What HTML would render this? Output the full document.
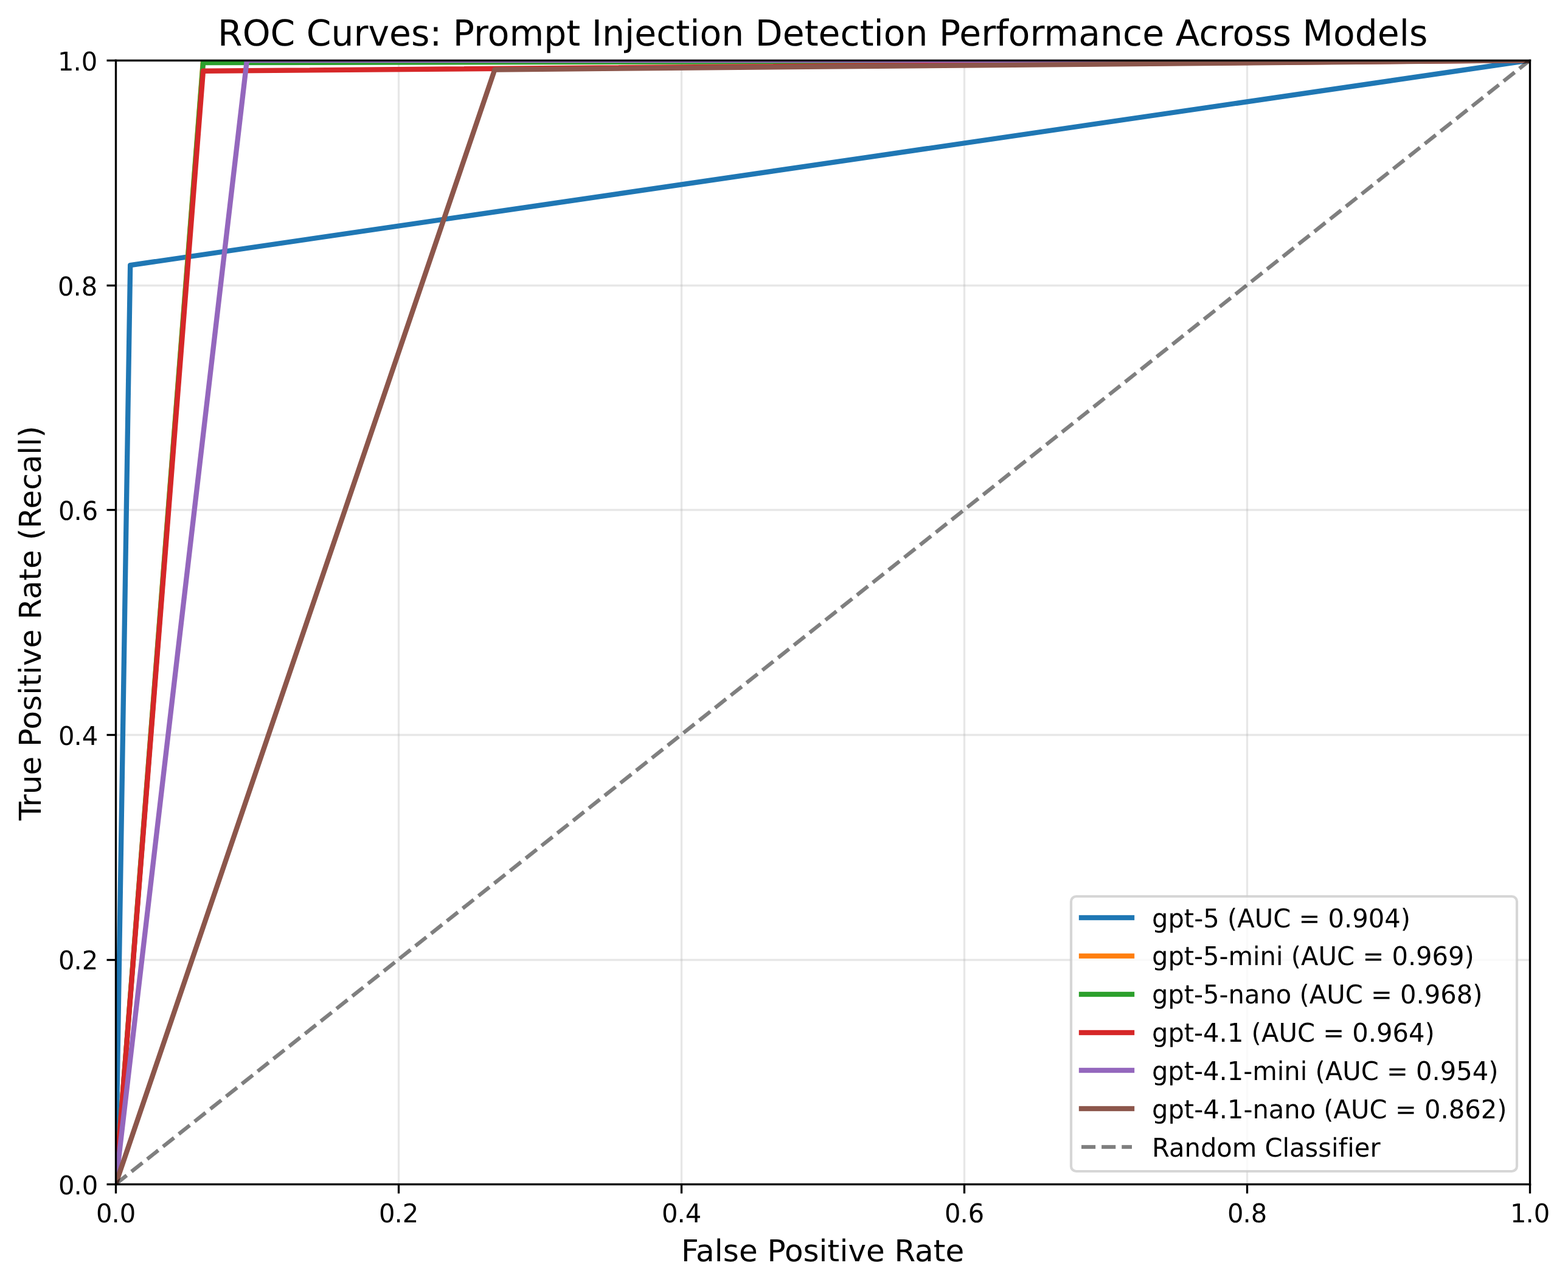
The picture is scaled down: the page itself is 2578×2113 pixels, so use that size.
<!DOCTYPE html>
<html lang="en"><head><meta charset="utf-8"><title>ROC Curves: Prompt Injection Detection Performance Across Models</title>
<style>html,body{margin:0;padding:0;background:#fff;width:2578px;height:2113px}svg{display:block}text{font-family:'DejaVu Sans', 'Liberation Sans', sans-serif;fill:#000;white-space:pre;text-rendering:geometricPrecision}</style>
</head><body>
<svg width="2578" height="2113" viewBox="0 0 2578 2113">
<defs><clipPath id="ax"><rect x="190.208" y="99.167" width="2325.000" height="1848.000"/></clipPath></defs>
<rect width="2578" height="2113" fill="#fff"/>
<g clip-path="url(#ax)" stroke="#b0b0b0" stroke-opacity="0.3" stroke-width="3.3333" stroke-linecap="square" fill="none">
<path d="M190.5 1947.167 V99.167"/>
<path d="M655.5 1947.167 V99.167"/>
<path d="M1120.5 1947.167 V99.167"/>
<path d="M1585.5 1947.167 V99.167"/>
<path d="M2050.5 1947.167 V99.167"/>
<path d="M2515.5 1947.167 V99.167"/>
<path d="M190.208 1947.5 H2515.208"/>
<path d="M190.208 1578.5 H2515.208"/>
<path d="M190.208 1208.5 H2515.208"/>
<path d="M190.208 838.5 H2515.208"/>
<path d="M190.208 469.5 H2515.208"/>
<path d="M190.208 99.5 H2515.208"/>
</g>
<g stroke="#000" stroke-width="3.3333" fill="none">
<path d="M190.5 1947.5 v15.000"/>
<path d="M655.5 1947.5 v15.000"/>
<path d="M1120.5 1947.5 v15.000"/>
<path d="M1585.5 1947.5 v15.000"/>
<path d="M2050.5 1947.5 v15.000"/>
<path d="M2515.5 1947.5 v15.000"/>
<path d="M190.5 1947.5 h-15.000"/>
<path d="M190.5 1578.5 h-15.000"/>
<path d="M190.5 1208.5 h-15.000"/>
<path d="M190.5 838.5 h-15.000"/>
<path d="M190.5 469.5 h-15.000"/>
<path d="M190.5 99.5 h-15.000"/>
</g>
<text font-size="41.6667" transform="matrix(1 0 0 1.0200 0 2010)" x="157.90 183.40 196.65" y="0">0.0</text>
<text font-size="41.6667" transform="matrix(1 0 0 1.0200 0 2010)" x="622.90 648.40 661.65" y="0">0.2</text>
<text font-size="41.6667" transform="matrix(1 0 0 1.0200 0 2010)" x="1088.10 1113.60 1126.85" y="0">0.4</text>
<text font-size="41.6667" transform="matrix(1 0 0 1.0300 0 2010)" x="1552.95 1578.45 1591.70" y="0">0.6</text>
<text font-size="41.6667" transform="matrix(1 0 0 1.0250 0 2010)" x="2017.95 2043.45 2056.70" y="0">0.8</text>
<text font-size="41.6667" transform="matrix(1 0 0 1.0200 0 2010)" x="2482.96 2508.46 2521.71" y="0">1.0</text>
<text font-size="41.6667" transform="matrix(1 0 0 1.0200 0 1964)" x="96.10 121.60 134.85" y="0">0.0</text>
<text font-size="41.6667" transform="matrix(1 0 0 1.0200 0 1594)" x="95.95 121.45 134.70" y="0">0.2</text>
<text font-size="41.6667" transform="matrix(1 0 0 1.0200 0 1225)" x="95.90 121.40 134.65" y="0">0.4</text>
<text font-size="41.6667" transform="matrix(1 0 0 1.0300 0 855)" x="95.95 121.45 134.70" y="0">0.6</text>
<text font-size="41.6667" transform="matrix(1 0 0 1.0250 0 486)" x="94.95 120.45 133.70" y="0">0.8</text>
<text font-size="41.6667" transform="matrix(1 0 0 1.0200 0 116)" x="94.96 120.46 133.71" y="0">1.0</text>
<text font-size="50.0000" transform="matrix(1 0 0 0.9900 0 2074)" x="1120.00 1144.12 1174.75 1188.75 1214.88 1245.62 1261.50 1289.88 1320.50 1346.62 1360.62 1380.38 1394.38 1424.00 1454.75 1470.62 1504.12 1534.75 1554.50" y="0">False Positive Rate</text>
<text font-size="50.0000" transform="translate(67 1349.95) rotate(-90) scale(1 0.9900)" x="0.88 23.12 43.75 75.38 106.25 122.00 150.38 181.00 207.12 221.12 240.88 254.88 284.50 315.38 331.12 364.62 395.25 415.00 445.88 461.62 481.00 513.38 544.12 571.62 602.25 616.25 630.25" y="0">True Positive Rate (Recall)</text>
<g clip-path="url(#ax)" fill="none" stroke-width="8.3333" stroke-linejoin="round" stroke-linecap="square">
<path stroke="#1f77b4" d="M190.208 1947.167 L214.177 436.186 L2515.208 99.167"/>
<path stroke="#ff7f0e" d="M190.208 1947.167 L334.023 99.167 L2515.208 99.167"/>
<path stroke="#2ca02c" d="M190.208 1947.167 L334.023 103.140 L2515.208 99.167"/>
<path stroke="#d62728" d="M190.208 1947.167 L334.023 116.723 L2515.208 99.167"/>
<path stroke="#9467bd" d="M190.208 1947.167 L405.930 99.167 L2515.208 99.167"/>
<path stroke="#8c564b" d="M190.208 1947.167 L813.404 114.505 L2515.208 99.167"/>
<path stroke="#000" stroke-opacity="0.5" stroke-width="6.2500" stroke-linecap="butt" stroke-dasharray="23.1250 10.0000" d="M190.208 1947.167 L2515.208 99.167"/>
</g>
<g stroke="#000" stroke-width="3.3333" stroke-linecap="square" fill="none">
<path d="M190.5 1947.5 V99.5"/>
<path d="M2515.5 1947.5 V99.5"/>
</g>
<rect x="188.8333" y="1945.8333" width="2328.3333" height="3.3333" fill="#000"/>
<rect x="188.8333" y="97.8333" width="2328.3333" height="3.3333" fill="#000"/>
<text font-size="58.3333" transform="matrix(1 0 0 1.0100 0 75)" x="358.05 398.68 444.55 485.30 503.80 544.55 581.55 605.55 640.05 676.05 706.42 726.17 744.67 778.92 801.67 837.42 894.17 931.30 954.17 972.67 989.92 1026.92 1043.17 1079.17 1111.30 1134.17 1150.42 1186.17 1223.17 1241.67 1286.67 1322.67 1345.55 1381.55 1413.67 1436.55 1452.80 1488.55 1525.55 1544.05 1577.17 1613.17 1637.17 1657.80 1693.55 1716.55 1773.30 1809.05 1846.05 1878.17 1914.17 1932.67 1971.55 2003.67 2026.42 2062.18 2092.55 2122.93 2141.43 2191.93 2227.68 2264.68 2300.68 2316.93" y="0">ROC Curves: Prompt Injection Detection Performance Across Models</text>
<rect x="1761.000" y="1474.000" width="733.000" height="452.000" rx="8.333" ry="8.333" fill="#fff" fill-opacity="0.8" stroke="#ccc" stroke-opacity="0.8" stroke-width="4.1667"/>
<rect x="1773.8333" y="1504.8333" width="91.3333" height="8.3333" fill="#1f77b4"/>
<rect x="1773.8333" y="1567.8333" width="91.3333" height="8.3333" fill="#ff7f0e"/>
<rect x="1773.8333" y="1630.8333" width="91.3333" height="8.3333" fill="#2ca02c"/>
<rect x="1773.8333" y="1693.8333" width="91.3333" height="8.3333" fill="#d62728"/>
<rect x="1773.8333" y="1755.8333" width="91.3333" height="8.3333" fill="#9467bd"/>
<rect x="1773.8333" y="1818.8333" width="91.3333" height="8.3333" fill="#8c564b"/>
<rect x="1778.0000" y="1882.8750" width="23.1250" height="6.2500" fill="#000" fill-opacity="0.5"/>
<rect x="1811.1250" y="1882.8750" width="23.1250" height="6.2500" fill="#000" fill-opacity="0.5"/>
<rect x="1844.2500" y="1882.8750" width="16.7500" height="6.2500" fill="#000" fill-opacity="0.5"/>
<text font-size="41.6667" transform="matrix(1 0 0 1.0200 0 1525)" x="1894.10 1920.47 1946.85 1963.22 1978.22 2004.72 2017.97 2034.22 2062.72 2093.22 2122.35 2135.60 2170.35 2183.60 2210.10 2223.35 2249.72 2276.22 2302.72" y="0">gpt-5 (AUC = 0.904)</text>
<text font-size="41.6667" transform="matrix(1 0 0 1.0200 0 1587)" x="1894.00 1920.38 1946.75 1963.12 1978.12 2004.62 2019.62 2060.12 2071.62 2098.00 2109.50 2122.75 2139.00 2167.50 2198.00 2227.12 2240.38 2275.12 2288.38 2314.88 2328.12 2354.50 2381.00 2407.38" y="0">gpt-5-mini (AUC = 0.969)</text>
<text font-size="41.6667" transform="matrix(1 0 0 1.0200 0 1650)" x="1893.90 1920.28 1946.65 1963.03 1978.03 2004.53 2019.53 2045.90 2071.40 2097.78 2123.15 2136.40 2152.65 2181.15 2211.65 2240.78 2254.03 2288.78 2302.03 2328.53 2341.78 2368.15 2394.65 2421.28" y="0">gpt-5-nano (AUC = 0.968)</text>
<text font-size="41.6667" transform="matrix(1 0 0 1.0200 0 1713)" x="1894.00 1920.38 1946.75 1963.12 1978.12 2004.62 2017.88 2044.38 2057.62 2073.88 2102.38 2132.88 2162.00 2175.25 2210.00 2223.25 2249.75 2263.00 2289.38 2315.88 2342.38" y="0">gpt-4.1 (AUC = 0.964)</text>
<text font-size="41.6667" transform="matrix(1 0 0 1.0200 0 1776)" x="1893.90 1920.28 1946.65 1963.03 1978.03 2004.53 2017.78 2044.28 2059.28 2099.78 2111.28 2137.65 2149.15 2162.40 2178.65 2207.15 2237.65 2266.78 2280.03 2314.78 2328.03 2354.53 2367.78 2394.15 2420.65 2447.15" y="0">gpt-4.1-mini (AUC = 0.954)</text>
<text font-size="41.6667" transform="matrix(1 0 0 1.0200 0 1839)" x="1894.10 1920.47 1946.85 1963.22 1978.22 2004.72 2017.97 2044.47 2059.47 2085.85 2111.35 2137.72 2163.10 2176.35 2192.60 2221.10 2251.60 2280.72 2293.97 2328.72 2341.97 2368.47 2381.72 2408.35 2434.85 2461.22" y="0">gpt-4.1-nano (AUC = 0.862)</text>
<text font-size="41.6667" transform="matrix(1 0 0 1.0200 0 1902)" x="1893.90 1922.03 1947.53 1973.90 2000.28 2025.65 2066.15 2079.40 2108.53 2120.03 2145.53 2167.28 2189.03 2200.53 2215.28 2226.78 2252.40" y="0">Random Classifier</text>
</svg>
</body></html>
